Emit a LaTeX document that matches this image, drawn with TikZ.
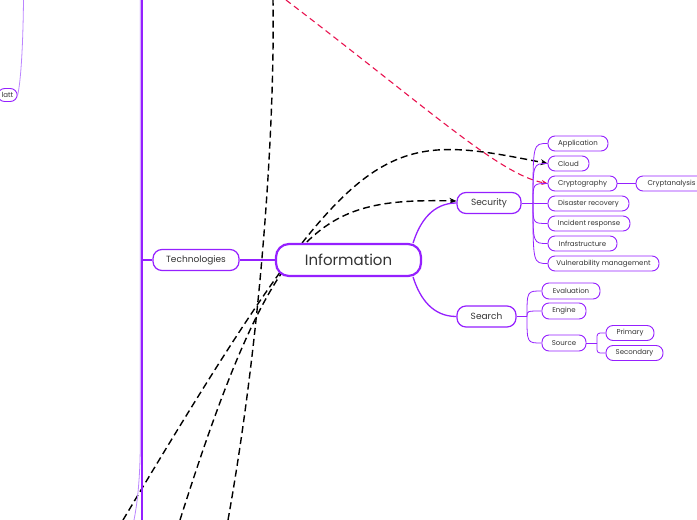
\documentclass[tikz,border=0pt]{standalone}
\usepackage{fontspec}
\setmainfont{Poppins}
\usetikzlibrary{arrows.meta,backgrounds}
\definecolor{mmpurple}{HTML}{9520FF}
\definecolor{mmlight}{HTML}{BB85FF}
\definecolor{mmtext}{HTML}{333333}
\definecolor{mmred}{HTML}{E8124F}
\tikzset{
  central/.style  = {rectangle, rounded corners=13pt, draw=mmpurple, line width=2.2pt, fill=white,
                     inner sep=0pt, minimum height=32pt, text=mmtext, font=\fontsize{15}{18}\selectfont},
  mainbox/.style  = {rectangle, rounded corners=9pt, draw=mmpurple, line width=1.2pt, fill=white,
                     inner sep=0pt, minimum height=21pt, text=mmtext, font=\fontsize{9}{11}\selectfont},
  subbox/.style   = {rectangle, rounded corners=7pt, draw=mmpurple, line width=0.9pt, fill=white,
                     inner sep=0pt, minimum height=15pt, text=mmtext, font=\fontsize{7}{8}\selectfont},
  branch/.style   = {draw=mmpurple, line width=1.3pt},
  twig/.style     = {draw=mmpurple, line width=0.8pt},
  trunk/.style    = {draw=mmpurple, line width=2.4pt},
  relation/.style = {-{Stealth[length=7pt,width=6pt]}, black, line width=1.4pt, dash pattern=on 7pt off 4pt},
  hotlink/.style  = {-{Stealth[length=6pt,width=5pt]}, mmred, line width=1.1pt, dash pattern=on 6pt off 4pt},
}

\begin{document}
\begin{tikzpicture}[x=1pt,y=-1pt]
      \useasboundingbox (0,0) rectangle (697,520);

      \node[central, minimum width=145pt] (info)   at (348.5,260)   {Information};
      \node[mainbox, minimum width=86pt]  (tech)   at (196,260)     {Technologies};
      \node[mainbox, minimum width=64pt]  (sec)    at (489,203)     {Security};
      \node[mainbox, minimum width=59pt]  (srch)   at (486.5,316.5) {Search};

      \node[subbox, minimum width=60pt]   (app)    at (578,143.5)   {Application};
      \node[subbox, minimum width=41pt]   (cloud)  at (568.5,163.5) {Cloud};
      \node[subbox, minimum width=69pt]   (crypto) at (582.5,183.5) {Cryptography};
      \node[subbox, minimum width=71pt]   (canal)  at (671.5,183.5) {Cryptanalysis};
      \node[subbox, minimum width=81pt]   (dis)    at (588.5,203.5) {Disaster recovery};
      \node[subbox, minimum width=82pt]   (inc)    at (589,223.5)   {Incident response};
      \node[subbox, minimum width=69pt]   (infra)  at (582.5,243.5) {Infrastructure};
      \node[subbox, minimum width=111pt]  (vuln)   at (603.5,263.5) {Vulnerability management};

      \node[subbox, minimum width=58pt, minimum height=16pt] (eval) at (571,291)   {Evaluation};
      \node[subbox, minimum width=44pt, minimum height=16pt] (eng)  at (564,311)   {Engine};
      \node[subbox, minimum width=44pt, minimum height=16pt] (src)  at (564,343)   {Source};
      \node[subbox, minimum width=48pt]   (prim)   at (630,333)     {Primary};
      \node[subbox, minimum width=57pt]   (sec2)   at (634.5,353)   {Secondary};

      \node[subbox, minimum height=13pt, inner xsep=4pt, anchor=east] (latt) at (17.7,95) {latt};

      \coordinate (techfork) at (142,260);
      \coordinate (techtop)  at (142,0);
      \coordinate (techbot)  at (142,520);
      \coordinate (ghosttop) at (140.3,0);
      \coordinate (ghostbot) at (134,520);
      \coordinate (lattup)   at (23.5,0);
      \coordinate (secfork)  at (533,203);
      \coordinate (srchfork) at (527,316.5);
      \coordinate (srcfork)  at (597,343);

      \draw[trunk] (techtop) -- (techbot);
      \draw[twig, mmlight] (ghosttop) -- (140.3,440) .. controls (140.3,480) and (137,505) .. (ghostbot);
      \draw[branch] (tech.west) -- (techfork);
      \draw[branch] (info.west) -- (tech.east);
      \draw[twig, mmlight] (latt.east) .. controls (21,80) and (23,45) .. (lattup);

      \draw[branch] ([xshift=-9pt]info.north east) .. controls (420,221) and (433,203) .. (sec.west);
      \draw[branch] ([xshift=-9pt]info.south east) .. controls (420,299) and (433,316.5) .. (srch.west);

      \draw[twig] (sec.east) -- (secfork);
      \foreach \leaf in {app,cloud,crypto,dis,inc,infra,vuln}
        \draw[twig] (secfork) .. controls (secfork |- \leaf.west) .. (\leaf.west);
      \draw[twig] (crypto.east) -- (canal.west);

      \draw[twig] (srch.east) -- (srchfork);
      \foreach \leaf in {eval,eng,src}
        \draw[twig] (srchfork) .. controls (srchfork |- \leaf.west) .. (\leaf.west);
      \draw[twig] (src.east) -- (srcfork);
      \draw[twig, rounded corners=3pt] (srcfork) |- (prim.west);
      \draw[twig, rounded corners=3pt] (srcfork) |- (sec2.west);

      \coordinate (cloudfrom)  at (123,520);
      \coordinate (secfrom)    at (180,520);
      \coordinate (passbot)    at (228,520);
      \coordinate (passtop)    at (273,0);
      \coordinate (cryptofrom) at (286,0);

      \begin{pgfonlayer}{background}
        \draw[relation] (cloudfrom) .. controls (357,129) and (379,130) .. (cloud.west);
        \draw[relation] (secfrom) .. controls (275,220) and (320,198) .. ([yshift=2pt]sec.west);
        \draw[relation, -] (passbot) .. controls (262,330) and (275,120) .. (passtop);
        \draw[hotlink] (cryptofrom) .. controls (430,110) and (500,175) .. (crypto.west);
      \end{pgfonlayer}
    \end{tikzpicture}
\end{document}
